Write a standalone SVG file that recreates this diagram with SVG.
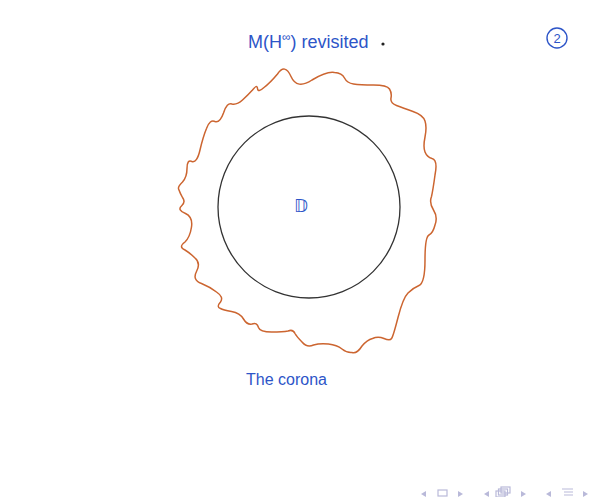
<svg xmlns="http://www.w3.org/2000/svg" width="597" height="497" viewBox="0 0 597 497">
<style>
.hand{font-family:"Liberation Sans","DejaVu Sans",sans-serif;fill:#2d55c8;}
.nav{fill:none;stroke:#b9b9d9;stroke-width:1.2;}
.navf{fill:#b9b9d9;}
</style>
<rect width="597" height="497" fill="#ffffff"/>
<g id="title">
<text class="hand" x="248" y="48" font-size="18">M(H<tspan font-size="12" dy="-7">∞</tspan><tspan dy="7">) revisited</tspan></text>
<circle cx="383" cy="44" r="1.6" fill="#222"/>
</g>
<g id="page-number">
<circle cx="557" cy="38" r="10" fill="none" stroke="#2d55c8" stroke-width="1.4"/>
<text class="hand" x="557" y="43" font-size="13" text-anchor="middle">2</text>
</g>
<g id="corona">
<path fill="none" stroke="#cc6530" stroke-width="1.5" stroke-linejoin="round" d="M277.5,74 Q285,63 291,76.5 Q297,90 312,80 Q327,71 334.5,72.5 Q342,73 344.5,78 Q347,83 353.5,84 Q360,85 373.5,85 Q387,85 389.5,89 Q392,93 391,98 Q390,103 396.5,105.5 Q403,108 413,111.5 Q423,115 425,121 Q427,127 425,137 Q423,147 425,152 Q427,157 432,158.5 Q438,160 435,175 Q433,190 431.5,196.5 Q429,203 433.5,210 Q438,217 435,225 Q433,233 429,235 Q425,237 425,260 Q425,283 419,285.5 Q413,288 408,293 Q403,298 398,317.5 Q393,337 391.5,338.5 Q390,341 384,338.5 Q378,336 372.5,338.5 Q367,340 362,346 Q357,354 352,352.5 Q347,353 342,349 Q337,345 328.5,344 Q320,343 313.5,345 Q307,348 302,342 Q297,337 295,333.5 Q293,329 288,331 Q283,332 271.5,332 Q260,332 258.5,327.5 Q257,322 252,324 Q247,325 243.5,319 Q240,313 231.5,311.5 Q223,310 220.5,308.5 Q216,307 220.5,302 Q224,297 216.5,292 Q210,287 201.5,283.5 Q192,280 196.5,271.5 Q201,263 195,258 Q190,253 185,250 Q178,247 185,242 Q190,237 191.5,227 Q193,217 185.5,213.5 Q177,210 181.5,206 Q186,202 182.5,197.5 Q180,193 179,190 Q177,187 182.5,182 Q187,177 187,168.5 Q187,159 192,161.5 Q197,163 200,150 Q203,137 206.5,128.5 Q210,119 215,121.5 Q220,123 223.5,113 Q227,102 232,104 Q237,105 242.5,100 Q248,95 252.5,90 Q257,84 257.5,88.5 Q258,93 264,87.5 Q270,83 277.5,74 Z"/>
</g>
<g id="disc">
<circle cx="309" cy="207" r="91" fill="none" stroke="#333" stroke-width="1.3"/>
<text class="hand" x="301" y="212" font-size="17" text-anchor="middle">𝔻</text>
</g>
<g id="caption">
<text class="hand" x="246" y="385" font-size="16">The corona</text>
</g>
<g id="navigation">
<path class="navf" d="M426,491 L421,494 L426,497 Z"/>
<rect class="nav" x="438" y="490" width="9" height="6"/>
<path class="navf" d="M458,491 L463,494 L458,497 Z"/>
<path class="navf" d="M489,491 L484,494 L489,497 Z"/>
<rect class="nav" x="496" y="491" width="9" height="6"/>
<rect class="nav" x="498.5" y="489" width="9" height="6"/>
<rect class="nav" x="501" y="487" width="9" height="6"/>
<path class="navf" d="M521,491 L526,494 L521,497 Z"/>
<path class="navf" d="M551,491 L546,494 L551,497 Z"/>
<path class="nav" d="M562,489 H573 M564,492 H573 M564,495 H573"/>
<path class="navf" d="M583,491 L588,494 L583,497 Z"/>
</g>
</svg>
